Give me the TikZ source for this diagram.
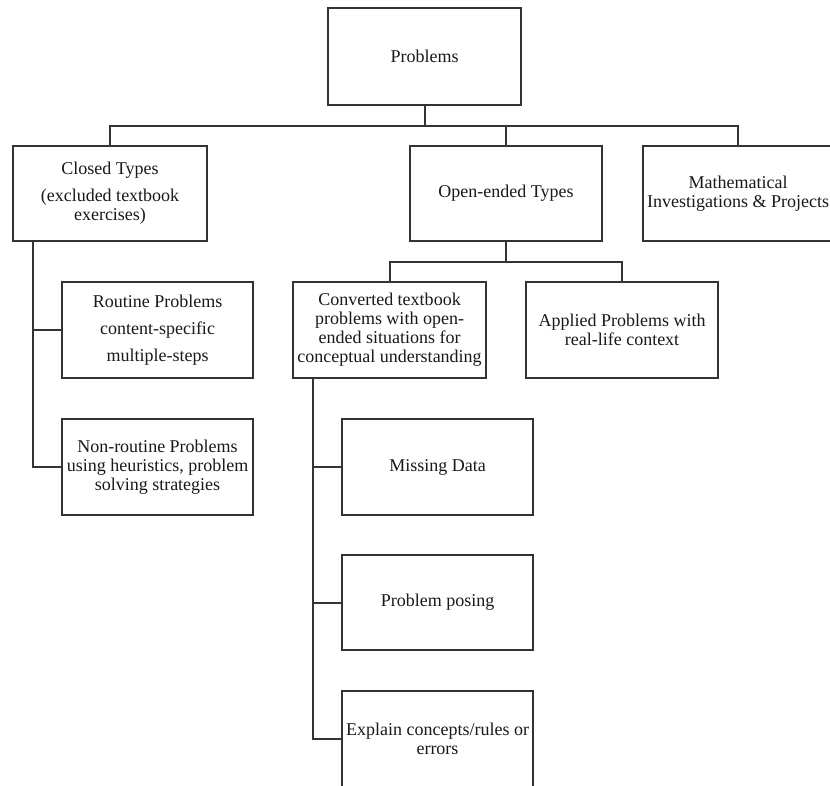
\documentclass[tikz,border=0pt]{standalone}
\usepackage{fontspec}
\setmainfont{Liberation Serif}
\tikzset{
  box/.style={draw=black!80, line width=2bp, rectangle, inner sep=0pt, align=center,
    text=black!90, font=\fontsize{18bp}{19bp}\selectfont},
  link/.style={draw=black!80, line width=2bp}
}
\begin{document}
\begin{tikzpicture}[x=1bp,y=-1bp]
\clip (0,0) rectangle (830,786);
\fill[white] (0,0) rectangle (830,786);
% level 0
\node[box, minimum width=193bp, minimum height=97bp] (prob) at (424.5,56.5) {Problems};
% level 1
\node[box, minimum width=194bp, minimum height=95bp] (closed) at (110,193.5) {Closed Types\\[8bp](excluded textbook\\exercises)};
\node[box, minimum width=192bp, minimum height=95bp] (open) at (506,193.5) {Open-ended Types};
\node[box, minimum width=190bp, minimum height=95bp] (math) at (738,193.5) {Mathematical\\Investigations \& Projects};
% level 2
\node[box, minimum width=191bp, minimum height=96bp] (routine) at (157.5,330) {Routine Problems\\[8bp]content-specific\\[8bp]multiple-steps};
\node[box, minimum width=191bp, minimum height=96bp] (nonroutine) at (157.5,467) {Non-routine Problems\\using heuristics, problem\\solving strategies};
\node[box, minimum width=193bp, minimum height=96bp] (conv) at (389.5,330) {Converted textbook\\problems with open-\\ended situations for\\conceptual understanding};
\node[box, minimum width=192bp, minimum height=96bp] (applied) at (622,330) {Applied Problems with\\real-life context};
% level 3
\node[box, minimum width=191bp, minimum height=96bp] (missing) at (437.5,467) {Missing Data};
\node[box, minimum width=191bp, minimum height=95bp] (posing) at (437.5,602.5) {Problem posing};
\node[box, minimum width=191bp, minimum height=96bp] (explain) at (437.5,739) {Explain concepts/rules or\\errors};
% connectors
\coordinate (b1) at (424.5,126);
\coordinate (b2) at (506,262);
\coordinate (t1) at (33,241);
\coordinate (t2) at (313,378);
\draw[link] (prob.south) -- (b1);
\draw[link] (closed.north) |- (b1) -| (math.north);
\draw[link] (b1) -| (open.north);
\draw[link] (open.south) -- (b2);
\draw[link] (conv.north) |- (b2) -| (applied.north);
\draw[link] (t1) |- (nonroutine.west);
\draw[link] (t1 |- routine.west) -- (routine.west);
\draw[link] (t2) |- (explain.west);
\draw[link] (t2 |- missing.west) -- (missing.west);
\draw[link] (t2 |- posing.west) -- (posing.west);
\end{tikzpicture}
\end{document}
